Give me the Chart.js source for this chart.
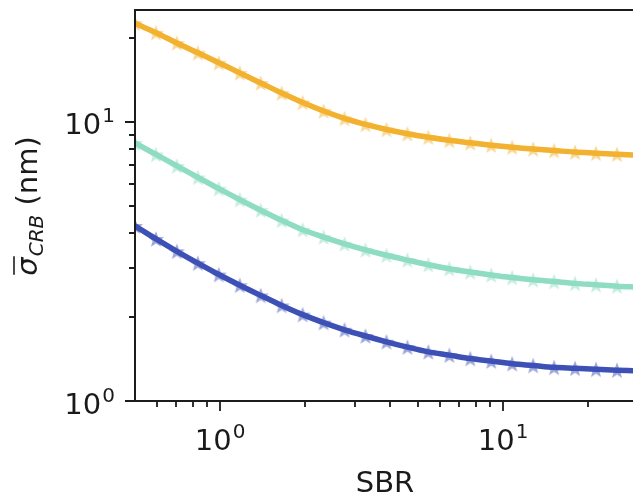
<!DOCTYPE html>
<html>
<head>
<meta charset="utf-8">
<script src="https://cdn.jsdelivr.net/npm/chart.js@4.4.1/dist/chart.umd.min.js"></script>
<style>
  html, body { margin: 0; padding: 0; background: #ffffff; }
  #wrap { width: 633px; height: 501px; }
</style>
</head>
<body>
<div id="wrap"><canvas id="c" width="633" height="501"></canvas></div>
<script>
// Signal-to-background ratio sample points
const sbr = [0.5, 0.593, 0.703, 0.834, 0.989, 1.173, 1.391, 1.650, 1.957, 2.321,
             2.752, 3.264, 3.871, 4.591, 5.445, 6.458, 7.659, 9.084, 10.77, 12.78,
             15.15, 17.97, 21.31, 25.28, 29.98];

// Mean CRB precision (nm) for the three configurations
const sigmaHigh = [22.6, 20.9, 19.2, 17.7, 16.3, 15.0, 13.8, 12.7, 11.75, 10.95,
                   10.3, 9.80, 9.40, 9.08, 8.82, 8.60, 8.42, 8.26, 8.12, 8.00,
                   7.90, 7.80, 7.73, 7.66, 7.60];
const sigmaMid  = [8.41, 7.65, 6.96, 6.33, 5.77, 5.27, 4.83, 4.44, 4.11, 3.87,
                   3.66, 3.48, 3.33, 3.20, 3.08, 2.98, 2.90, 2.83, 2.77, 2.72,
                   2.68, 2.64, 2.61, 2.58, 2.56];
const sigmaLow  = [4.24, 3.81, 3.44, 3.12, 2.84, 2.60, 2.39, 2.20, 2.04, 1.91,
                   1.80, 1.71, 1.63, 1.56, 1.50, 1.46, 1.42, 1.39, 1.36, 1.34,
                   1.32, 1.31, 1.30, 1.29, 1.28];

// Axis ticks
const xMajorTicks = [1, 10];
const xMinorTicks = [0.6, 0.7, 0.8, 0.9, 2, 3, 4, 5, 6, 7, 8, 9, 20];
const yMajorTicks = [1, 10];
const yMinorTicks = [2, 3, 4, 5, 6, 7, 8, 9, 20];
const xTickExponents = ['0', '1'];
const yTickExponents = ['0', '1'];

const colors = {
  high: '#F2B12E',
  mid:  '#8EDCC2',
  low:  '#3D50B6'
};

const FONT = "'DejaVu Sans', sans-serif";

function pts(ys) { return sbr.map((x, i) => ({ x: x, y: ys[i] })); }

// Filled five-point star used as marker
function starMarker(color, alpha) {
  const size = 22, c = document.createElement('canvas');
  c.width = size; c.height = size;
  const g = c.getContext('2d');
  const cx = size / 2, cy = size / 2 + 0.8, ro = 8.5, ri = 3.6;
  g.filter = 'blur(0.6px)';
  g.beginPath();
  for (let k = 0; k < 10; k++) {
    const r = k % 2 === 0 ? ro : ri;
    const a = -Math.PI / 2 + k * Math.PI / 5;
    const px = cx + r * Math.cos(a), py = cy + r * Math.sin(a);
    if (k === 0) g.moveTo(px, py); else g.lineTo(px, py);
  }
  g.closePath();
  g.globalAlpha = alpha;
  g.fillStyle = color;
  g.fill();
  return c;
}

function lineSet(ys, color) {
  return {
    data: pts(ys), borderColor: color, borderWidth: 5.5, pointRadius: 0,
    fill: false, tension: 0.35, order: 0
  };
}
function starSet(ys, color) {
  return {
    data: pts(ys), showLine: false, pointStyle: starMarker(color, 0.5),
    pointRadius: 10, borderWidth: 0, order: 1
  };
}

// Spines, tick marks, tick labels and axis titles
const axesPlugin = {
  id: 'axesDecor',
  afterDraw(chart) {
    const ctx = chart.ctx, a = chart.chartArea;
    const xs = chart.scales.x, ys = chart.scales.y;
    ctx.save();
    ctx.strokeStyle = '#1c1c1c';
    ctx.lineWidth = 2;
    ctx.beginPath();
    ctx.moveTo(a.left, a.top); ctx.lineTo(a.right + 2, a.top);
    ctx.moveTo(a.left, a.top - 1); ctx.lineTo(a.left, a.bottom + 1);
    ctx.moveTo(a.left - 1, a.bottom); ctx.lineTo(a.right + 2, a.bottom);
    ctx.stroke();

    ctx.lineWidth = 1.8;
    ctx.beginPath();
    xMajorTicks.forEach(v => { const p = Math.round(xs.getPixelForValue(v)); ctx.moveTo(p, a.bottom); ctx.lineTo(p, a.bottom + 10); });
    xMinorTicks.forEach(v => { const p = Math.round(xs.getPixelForValue(v)); ctx.moveTo(p, a.bottom); ctx.lineTo(p, a.bottom + 6); });
    yMajorTicks.forEach(v => { const p = Math.round(ys.getPixelForValue(v)); ctx.moveTo(a.left, p); ctx.lineTo(a.left - 10, p); });
    yMinorTicks.forEach(v => { const p = Math.round(ys.getPixelForValue(v)); ctx.moveTo(a.left, p); ctx.lineTo(a.left - 6, p); });
    ctx.stroke();

    ctx.fillStyle = '#1a1a1a';
    ctx.textBaseline = 'alphabetic';
    const big = '29px ' + FONT, small = '20px ' + FONT;
    function powerLabel(exp) {
      ctx.font = big; const w1 = ctx.measureText('10').width;
      ctx.font = small; const w2 = ctx.measureText(exp).width;
      return { w1, w2, total: w1 + w2 + 1 };
    }
    function drawPower(exp, left, base) {
      const m = powerLabel(exp);
      ctx.textAlign = 'left';
      ctx.font = big; ctx.fillText('10', left, base);
      ctx.font = small; ctx.fillText(exp, left + m.w1 + 1, base - 12);
    }
    xMajorTicks.forEach((v, i) => {
      const m = powerLabel(xTickExponents[i]);
      const p = xs.getPixelForValue(v);
      drawPower(xTickExponents[i], p - m.total / 2, a.bottom + 49);
    });
    yMajorTicks.forEach((v, i) => {
      const m = powerLabel(yTickExponents[i]);
      const p = ys.getPixelForValue(v);
      drawPower(yTickExponents[i], a.left - 20 - m.total, p + 12.5);
    });

    // x title
    ctx.font = big; ctx.textAlign = 'center';
    ctx.fillText('SBR', 385, 492);

    // y title: sigma with overline, subscript CRB, then unit
    const italic = 'italic 29px ' + FONT, subFont = 'italic 20px ' + FONT;
    ctx.font = italic; const wS = ctx.measureText('σ').width;
    ctx.font = subFont; const wSub = ctx.measureText('CRB').width;
    ctx.font = big; const wUnit = ctx.measureText(' (nm)').width;
    const total = wS + 1 + wSub + wUnit;
    ctx.translate(37, 206);
    ctx.rotate(-Math.PI / 2);
    let x0 = -total / 2;
    ctx.textAlign = 'left';
    ctx.font = italic; ctx.fillText('σ', x0, 0);
    ctx.lineWidth = 1.6;
    ctx.beginPath(); ctx.moveTo(x0 + 1, -23); ctx.lineTo(x0 + wS + 1, -23); ctx.stroke();
    x0 += wS + 1;
    ctx.font = subFont; ctx.fillText('CRB', x0, 6);
    x0 += wSub;
    ctx.font = big; ctx.fillText(' (nm)', x0, 0);
    ctx.restore();
  }
};

new Chart(document.getElementById('c'), {
  type: 'line',
  data: {
    datasets: [
      lineSet(sigmaHigh, colors.high),
      lineSet(sigmaMid, colors.mid),
      lineSet(sigmaLow, colors.low),
      starSet(sigmaHigh, colors.high),
      starSet(sigmaMid, colors.mid),
      starSet(sigmaLow, colors.low)
    ]
  },
  options: {
    responsive: false,
    animation: false,
    devicePixelRatio: 1,
    layout: { autoPadding: false, padding: { left: 135, top: 10, right: 0, bottom: 100 } },
    plugins: { legend: { display: false }, tooltip: { enabled: false } },
    scales: {
      x: { type: 'logarithmic', min: 0.5, max: 28.8, display: false },
      y: { type: 'logarithmic', min: 1, max: 25.2, display: false }
    }
  },
  plugins: [axesPlugin]
});
</script>
</body>
</html>
